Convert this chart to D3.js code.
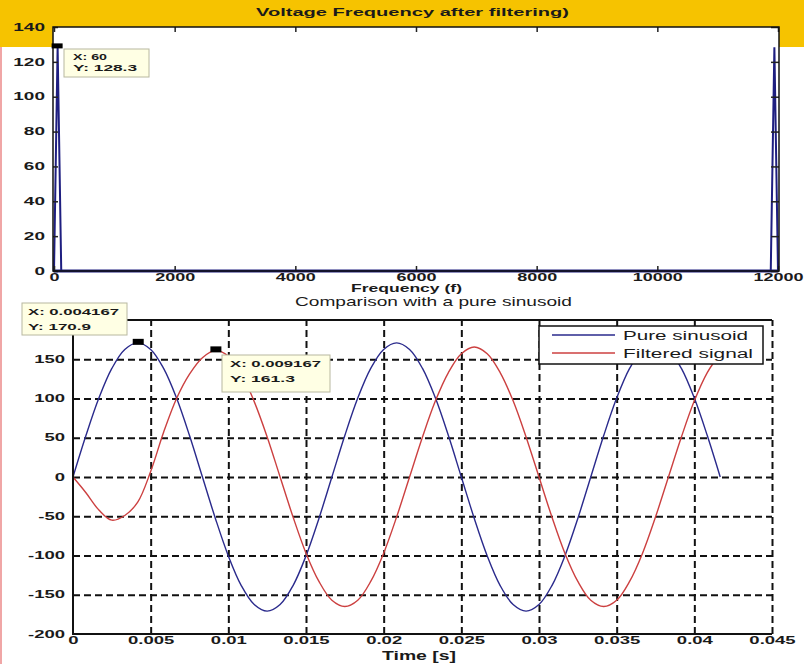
<!DOCTYPE html>
<html><head><meta charset="utf-8">
<script src="https://cdn.jsdelivr.net/npm/d3@7"></script>
<style>
body{margin:0;background:#fff}
svg{display:block}
text{font-family:"Liberation Sans",Arial,sans-serif;fill:#1a1a1a}
</style>
</head><body>
<svg id="c" width="804" height="664"></svg>
<script>
// ---- Top plot: spectrum ----
const specFreq = [0, 60, 120, 11880, 11940, 12000];
const specMag  = [0, 128.3, 0, 0, 128.3, 0];
const specXTicks = [0, 2000, 4000, 6000, 8000, 10000, 12000];
const specYTicks = [0, 20, 40, 60, 80, 100, 120, 140];

// ---- Bottom plot: time signals ----
const timeS = [0, 0.000833, 0.001667, 0.0025, 0.003333, 0.004167, 0.005, 0.005833, 0.006667, 0.0075,
  0.008333, 0.009167, 0.01, 0.010833, 0.011667, 0.0125, 0.013333, 0.014167, 0.015, 0.015833,
  0.016667, 0.0175, 0.018333, 0.019167, 0.02, 0.020833, 0.021667, 0.0225, 0.023333, 0.024167,
  0.025, 0.025833, 0.026667, 0.0275, 0.028333, 0.029167, 0.03, 0.030833, 0.031667, 0.0325,
  0.033333, 0.034167, 0.035, 0.035833, 0.036667, 0.0375, 0.038333, 0.039167, 0.04, 0.040833, 0.041667];
const pureSinusoid = [0, 52.8, 100.5, 138.3, 162.5, 170.9, 162.5, 138.3, 100.5, 52.8,
  0, -52.8, -100.5, -138.3, -162.5, -170.9, -162.5, -138.3, -100.5, -52.8,
  0, 52.8, 100.5, 138.3, 162.5, 170.9, 162.5, 138.3, 100.5, 52.8,
  0, -52.8, -100.5, -138.3, -162.5, -170.9, -162.5, -138.3, -100.5, -52.8,
  0, 52.8, 100.5, 138.3, 162.5, 170.9, 162.5, 138.3, 100.5, 52.8, 0];
const filteredSignal = [0, -20, -42, -55, -49, -32, 7, 57, 100, 131,
  152, 161.3, 154, 132, 96, 51, 0, -51, -97, -133,
  -157, -165, -157, -133, -97, -51, 0, 51, 97, 133,
  157, 165.6, 157, 133, 97, 51, 0, -51, -97, -133,
  -157, -165, -157, -133, -97, -51, 0, 51, 97, 133, 157];
const timeTicks = [0, 0.005, 0.01, 0.015, 0.02, 0.025, 0.03, 0.035, 0.04, 0.045];
const timeTickLabels = ["0", "0.005", "0.01", "0.015", "0.02", "0.025", "0.03", "0.035", "0.04", "0.045"];
const voltTicks = [-200, -150, -100, -50, 0, 50, 100, 150, 200];
const voltTickLabels = ["-200", "-150", "-100", "-50", "0", "50", "100", "150", ""]; // 200 hidden under data tip
const seriesNames = ["Pure sinusoid", "Filtered signal"];
const seriesColors = ["#2a2a8c", "#cc4040"];

const svg = d3.select("#c");
svg.append("rect").attr("width", 804).attr("height", 664).attr("fill", "#fff");
svg.append("rect").attr("width", 804).attr("height", 47).attr("fill", "#f6c300");
svg.append("rect").attr("x", 0).attr("y", 47).attr("width", 2).attr("height", 617).attr("fill", "#f0a6a6");

// stretch tick text horizontally with a transform (keeps the anchor point fixed)
function stretchBy(sel, f) {
  sel.each(function () {
    const el = d3.select(this);
    const x0 = +(el.attr("x") || 0);
    el.attr("x", 0).attr("transform", `translate(${x0},0) scale(${f},1)`);
  });
}
function label(x, y, txt, w, opts) {
  const t = svg.append("text").attr("x", x).attr("y", y).text(txt)
    .attr("font-size", opts.size).attr("font-weight", opts.weight || "normal")
    .attr("text-anchor", "start");
  if (w) t.attr("textLength", w).attr("lengthAdjust", "spacingAndGlyphs");
  return t;
}

// ===== TOP PLOT =====
const xTop = d3.scaleLinear().domain([0, 12000]).range([54, 778]);
const yTop = d3.scaleLinear().domain([0, 140]).range([271, 27]);
svg.append("rect").attr("x", 53).attr("y", 27).attr("width", 726).attr("height", 244).attr("fill", "#fff");

const topLine = d3.line().x((d, i) => xTop(specFreq[i])).y(d => yTop(d));
svg.append("path").datum(specMag).attr("d", topLine).attr("fill", "none")
  .attr("stroke", "#1e1e80").attr("stroke-width", 2);
svg.append("line").attr("x1", xTop(0)).attr("x2", xTop(12000)).attr("y1", yTop(0)).attr("y2", yTop(0))
  .attr("stroke", "#1e1e80").attr("stroke-width", 3);

const gyT = svg.append("g").attr("transform", "translate(53,0)")
  .call(d3.axisLeft(yTop).tickValues(specYTicks).tickSize(-5).tickPadding(8).tickFormat(d3.format("d")));
const gxT = svg.append("g").attr("transform", "translate(0,271)")
  .call(d3.axisBottom(xTop).tickValues(specXTicks).tickSize(-5).tickPadding(3).tickFormat(d3.format("d")));
svg.append("g").attr("transform", "translate(779,0)")
  .call(d3.axisRight(yTop).tickValues(specYTicks).tickSize(-8).tickFormat(""));
svg.append("g").attr("transform", "translate(0,27)")
  .call(d3.axisTop(xTop).tickValues(specXTicks).tickSize(-5).tickFormat(""));
svg.selectAll(".domain").remove();
svg.selectAll(".tick line").attr("stroke", "#222").attr("stroke-width", 1.5);
[gyT, gxT].forEach(g => g.selectAll("text").attr("font-size", 10).attr("font-weight", "bold")
  .attr("font-family", "Liberation Sans, Arial, sans-serif").attr("fill", "#1a1a1a"));
stretchBy(gyT.selectAll("text"), 1.9);
stretchBy(gxT.selectAll("text"), 1.8);
svg.append("rect").attr("x", 53).attr("y", 27).attr("width", 726).attr("height", 244)
  .attr("fill", "none").attr("stroke", "#111").attr("stroke-width", 1.5);

label(256, 16, "Voltage Frequency after filtering)", 313, {size: 11, weight: "bold"});
label(351, 292, "Frequency (f)", 111, {size: 11, weight: "bold"});
label(295, 306, "Comparison with a pure sinusoid", 277, {size: 13});

// top data tip
{
  const px = xTop(specFreq[1]), py = yTop(specMag[1]);
  svg.append("rect").attr("x", 64).attr("y", 49).attr("width", 85).attr("height", 28)
    .attr("fill", "#ffffe4").attr("stroke", "#b8b8a0");
  label(73, 60, "X: 60", 34, {size: 9, weight: "bold"});
  label(73, 71, "Y: 128.3", 64, {size: 9, weight: "bold"});
  svg.append("rect").attr("x", px - 6).attr("y", py - 4).attr("width", 11).attr("height", 5).attr("fill", "#000");
}

// ===== BOTTOM PLOT =====
const xB = d3.scaleLinear().domain([0, 0.045]).range([73, 772]);
const yB = d3.scaleLinear().domain([-200, 200]).range([634, 320]);
svg.append("rect").attr("x", 73).attr("y", 320).attr("width", 699).attr("height", 314).attr("fill", "#fff");

// grid
const gridX = svg.append("g").attr("transform", "translate(0,634)")
  .call(d3.axisBottom(xB).tickValues(timeTicks.filter(d => d > 0)).tickSize(-314).tickFormat(""));
const gridY = svg.append("g").attr("transform", "translate(73,0)")
  .call(d3.axisLeft(yB).tickValues(voltTicks.filter(d => d > -200 && d < 200)).tickSize(-699).tickFormat(""));
[gridX, gridY].forEach(g => {
  g.select(".domain").remove();
  g.selectAll("line").attr("stroke", "#111").attr("stroke-width", 2).attr("stroke-dasharray", "7,4");
});

const series = [pureSinusoid, filteredSignal];
const lineB = d3.line().curve(d3.curveCatmullRom.alpha(0.5)).x((d, i) => xB(timeS[i])).y(d => yB(d));
series.forEach((s, k) => {
  svg.append("path").datum(s).attr("d", lineB).attr("fill", "none")
    .attr("stroke", seriesColors[k]).attr("stroke-width", 1.4);
});

// axes
const gyB = svg.append("g").attr("transform", "translate(73,0)")
  .call(d3.axisLeft(yB).tickValues(voltTicks).tickSize(0).tickPadding(8)
    .tickFormat((d, i) => voltTickLabels[i]));
const gxB = svg.append("g").attr("transform", "translate(0,634)")
  .call(d3.axisBottom(xB).tickValues(timeTicks).tickSize(0).tickPadding(3)
    .tickFormat((d, i) => timeTickLabels[i]));
[gyB, gxB].forEach(g => {
  g.select(".domain").remove();
  g.selectAll("text").attr("font-size", 10).attr("font-weight", "bold")
    .attr("font-family", "Liberation Sans, Arial, sans-serif").attr("fill", "#1a1a1a");
});
stretchBy(gyB.selectAll("text"), 1.85);
stretchBy(gxB.selectAll("text"), 1.85);
svg.append("path").attr("d", "M73,320V634H772M73,320H772").attr("fill", "none")
  .attr("stroke", "#111").attr("stroke-width", 2);
label(382, 660, "Time [s]", 74, {size: 12, weight: "bold"});

// legend
{
  svg.append("rect").attr("x", 539).attr("y", 326).attr("width", 224).attr("height", 38)
    .attr("fill", "#fff").attr("stroke", "#111").attr("stroke-width", 1.5);
  const widths = [125, 130];
  seriesNames.forEach((n, k) => {
    const y = 335 + k * 18;
    svg.append("line").attr("x1", 552).attr("x2", 615).attr("y1", y).attr("y2", y)
      .attr("stroke", seriesColors[k]).attr("stroke-width", 1.4);
    label(623, y + 5, n, widths[k], {size: 12});
  });
}

// data tips
function tip(i, s, bx, by, bw, bh, lx, txt1, w1, txt2, w2) {
  const px = xB(timeS[i]), py = yB(s[i]);
  svg.append("rect").attr("x", bx).attr("y", by).attr("width", bw).attr("height", bh)
    .attr("fill", "#ffffe4").attr("stroke", "#b8b8a0");
  label(lx, by + 12, txt1, w1, {size: 9, weight: "bold"});
  label(lx, by + 27, txt2, w2, {size: 9, weight: "bold"});
  svg.append("rect").attr("x", px - 5).attr("y", py - 4).attr("width", 11).attr("height", 6).attr("fill", "#000");
}
tip(5, pureSinusoid, 22, 303, 105, 32, 28, "X: 0.004167", 91, "Y: 170.9", 63);
tip(11, filteredSignal, 222, 355, 108, 37, 230, "X: 0.009167", 91, "Y: 161.3", 65);
</script>
</body></html>
